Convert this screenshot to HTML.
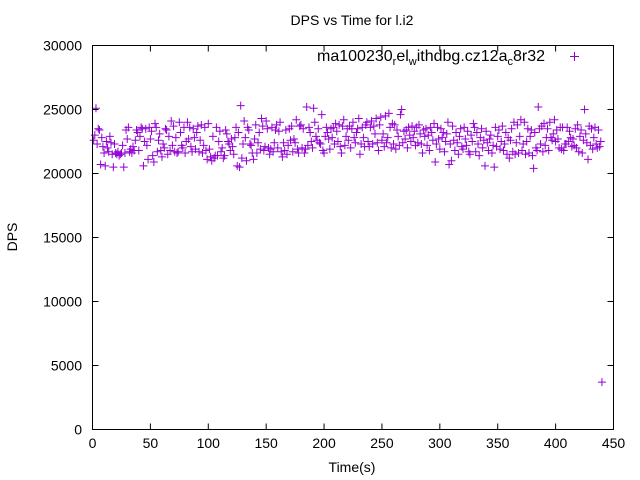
<!DOCTYPE html>
<html><head><meta charset="utf-8"><style>
html,body{margin:0;padding:0;background:#fff;}
svg{display:block;font-family:"Liberation Sans",sans-serif;}
</style></head><body>
<svg id="chart" width="640" height="480">
<rect x="0" y="0" width="640" height="480" fill="#fff"/>
<g id="points"></g>
<rect x="92.5" y="45.5" width="521" height="384" fill="none" stroke="#000" stroke-width="1"/>
<g id="axes" font-size="14" fill="#000"></g>
<text x="352" y="25" font-size="14" text-anchor="middle">DPS vs Time for l.i2</text>
<text x="352" y="472" font-size="14" text-anchor="middle">Time(s)</text>
<text transform="translate(17,237) rotate(-90)" font-size="14" text-anchor="middle">DPS</text>
<text x="545" y="61" font-size="16" text-anchor="end">ma100230<tspan font-size="11" dy="4">r</tspan><tspan dy="-4">el</tspan><tspan font-size="11" dy="4">w</tspan><tspan dy="-4">ithdbg.cz12a</tspan><tspan font-size="11" dy="4">c</tspan><tspan dy="-4">8r32</tspan></text>
<g stroke="#9400d3" stroke-width="1"><line x1="570" y1="56.5" x2="579" y2="56.5"/><line x1="574.5" y1="52" x2="574.5" y2="61"/></g>
</svg>
<script>
const xTicks = [0,50,100,150,200,250,300,350,400,450];
const yTicks = [0,5000,10000,15000,20000,25000,30000];
const dps = [
22600,23000,25100,22300,23500,23400,20700,22800,22100,21600,
20600,22500,22000,21700,22900,22400,21500,20500,22300,21600,
21500,21700,21400,21500,21600,22200,20500,21600,23400,22700,
23600,21700,21900,21600,22100,21800,22600,23400,23200,21800,
22900,23600,23500,20600,22500,23500,22200,21100,23600,22700,
23300,21400,20900,23900,23600,21700,22600,23100,21800,21300,
22300,22000,23500,23400,21500,22900,21800,24100,22200,23700,
21700,22800,21600,21700,24000,23200,22200,22000,23600,21600,
22500,24000,22700,23600,22100,21700,23500,22800,21900,23200,
23700,21700,22600,23800,21600,22200,23600,21800,21100,23900,
21900,21300,21000,22900,21200,21400,23600,21400,22500,23300,
21700,22000,21200,21400,23400,23100,22500,22300,21800,22700,
22100,21500,22800,23600,20600,23200,20500,25300,21200,22300,
24100,22800,21000,23600,23400,22300,22200,21600,21100,22700,
23800,21600,22400,23200,21900,24300,23700,21800,22100,24100,
23500,22000,21500,21900,23600,21700,22400,23400,23800,22000,
23300,24000,21700,21300,22400,21800,23400,21500,22200,23500,
22600,23700,21700,22700,22400,24200,21900,21600,23700,23800,
22000,23500,21600,21900,25200,22200,23600,23200,22500,22000,
25100,24000,22900,22600,23500,22400,22300,24600,21800,21600,
22900,23600,23200,22700,21900,23500,22800,23600,22300,23900,
23300,22500,23800,22100,21600,23700,24200,22200,22900,23500,
22600,23700,22000,23500,24000,22800,22400,23200,23500,24300,
21500,22300,23600,22800,22100,23800,24000,22500,22100,23600,
24100,22300,23700,23100,24300,22400,21800,23800,24400,22600,
23100,22100,24500,22400,22800,24700,23600,22000,23900,22300,
23800,21900,23400,22900,22200,24600,25000,22400,23300,22700,
23400,22000,23600,23000,22500,23700,22800,23300,22200,23600,
22400,23800,23100,22300,21600,23400,22900,23500,22200,23000,
21800,23600,23200,22600,23900,20900,22300,23600,22700,21900,
23500,22800,23200,21700,22500,23100,24000,20700,22300,21000,
23700,22600,21800,23200,22400,21500,22900,23500,22100,21900,
23600,22700,22200,23300,21700,21500,23000,22500,23900,23600,
21700,23200,22300,21400,22800,23500,22000,22600,20600,23300,
22400,21800,22700,23000,21600,22200,20500,23600,22100,22900,
23400,21900,22500,23700,21800,22300,23200,21500,22800,21200,
22600,23500,21700,24000,21500,22400,23800,21600,22900,24200,
21800,22300,24000,21500,22500,23500,21600,22900,23400,21400,
20400,23200,22000,21800,25200,23500,22300,23700,21700,23900,
22200,22800,23500,21800,24000,22800,22600,23100,24200,22500,
23400,22700,22000,23600,21900,23600,21800,22300,22300,23600,
22500,23300,22800,22100,22700,22200,23500,22000,23800,21700,
22900,23400,21600,22600,25000,23100,22400,21100,23700,22200,
23500,21900,22800,23600,22300,22000,23400,22100,22500,3700
];
const X0=92.5, X1=613.5, Y0=429.5, Y1=45.5;
const xScale = v => X0 + v / 450 * (X1 - X0);
const yScale = v => Y0 - v / 30000 * (Y0 - Y1);
const NS = "http://www.w3.org/2000/svg";
const axes = document.getElementById('axes');
const pts = document.getElementById('points');
xTicks.forEach(t => {
  const x = xScale(t);
  const l = document.createElementNS(NS,'path');
  l.setAttribute('d', `M${x},${Y0}v-6M${x},${Y1}v6`);
  l.setAttribute('stroke','#000');
  
  
  axes.appendChild(l);
  const tx = document.createElementNS(NS,'text');
  tx.setAttribute('x', x); tx.setAttribute('y', 448);
  tx.setAttribute('text-anchor','middle');
  tx.textContent = t;
  
  
  axes.appendChild(tx);
});
yTicks.forEach(t => {
  const y = yScale(t);
  const l = document.createElementNS(NS,'path');
  l.setAttribute('d', `M${X0},${y}h6M${X1},${y}h-6`);
  l.setAttribute('stroke','#000');
  
  
  axes.appendChild(l);
  const tx = document.createElementNS(NS,'text');
  tx.setAttribute('x', 82); tx.setAttribute('y', y + 5);
  tx.setAttribute('text-anchor','end');
  tx.textContent = t;
  
  
  axes.appendChild(tx);
});
dps.forEach((v, i) => {
  const x = xScale(i + 1), y = yScale(v);
  const p = document.createElementNS(NS,'path');
  p.setAttribute('d', `M${x-4},${y}h8M${x},${y-4}v8`);
  p.setAttribute('stroke','#9400d3');
  p.setAttribute('fill','none');
  
  
  pts.appendChild(p);
});
</script>
</body></html>
